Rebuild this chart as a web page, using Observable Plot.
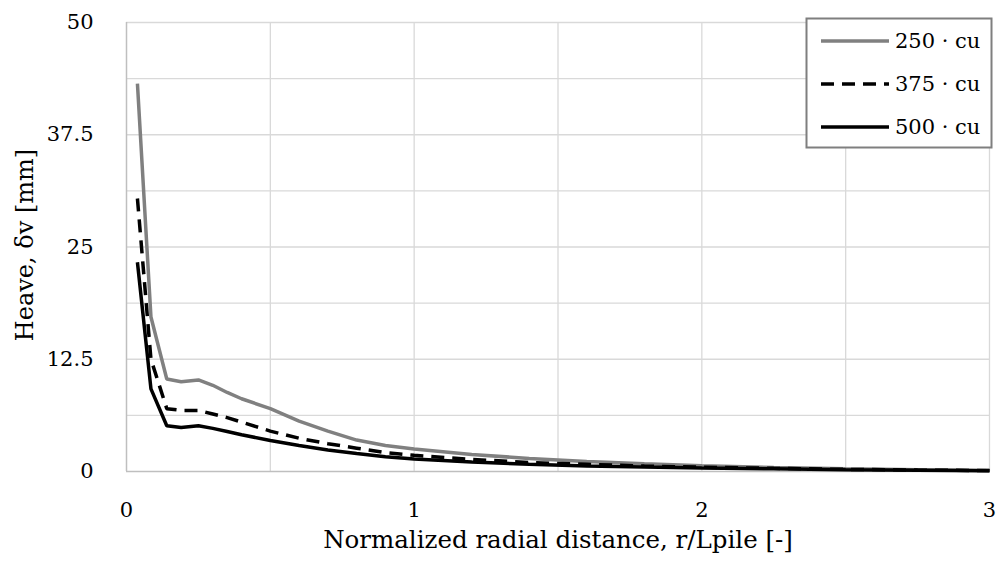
<!DOCTYPE html>
<html>
<head>
<meta charset="utf-8">
<script src="https://cdn.jsdelivr.net/npm/d3@7"></script>
<script src="https://cdn.jsdelivr.net/npm/@observablehq/plot@0.6"></script>
<style>
  html, body { margin: 0; padding: 0; background: white; }
</style>
</head>
<body>
<div id="chart"></div>
<script>
// ---- data ----
const rOverL = [0.038, 0.085, 0.14, 0.19, 0.25, 0.30, 0.35, 0.40, 0.50, 0.60, 0.70, 0.80, 0.90, 1.00, 1.20, 1.40, 1.60, 1.80, 2.00, 2.25, 2.50, 2.75, 3.00];
const heave250 = [43.2, 17.2, 10.3, 10.0, 10.2, 9.6, 8.8, 8.1, 7.0, 5.6, 4.5, 3.5, 2.9, 2.5, 1.9, 1.45, 1.1, 0.85, 0.65, 0.45, 0.3, 0.2, 0.12];
const heave375 = [30.4, 12.5, 7.0, 6.8, 6.8, 6.4, 6.0, 5.5, 4.5, 3.7, 3.1, 2.6, 2.1, 1.8, 1.35, 1.0, 0.8, 0.6, 0.48, 0.35, 0.24, 0.16, 0.1];
const heave500 = [23.3, 9.2, 5.1, 4.9, 5.1, 4.8, 4.45, 4.1, 3.45, 2.9, 2.4, 2.0, 1.65, 1.4, 1.05, 0.8, 0.62, 0.5, 0.4, 0.3, 0.2, 0.14, 0.09];
const seriesNames = ["250 · cu", "375 · cu", "500 · cu"];
const xTickLabels = [0, 1, 2, 3];
const yTickLabels = [0, 12.5, 25, 37.5, 50];
const xGridLines = [0.5, 1, 1.5, 2, 2.5, 3];
const yGridLines = [6.25, 12.5, 18.75, 25, 31.25, 37.5, 43.75, 50];
const xLabel = "Normalized radial distance, r/Lpile [-]";
const yLabel = "Heave, δv [mm]";

const seriesValues = [heave250, heave375, heave500];
const styles = [
  {stroke: "#808080", dash: null},
  {stroke: "#000000", dash: "13,8"},
  {stroke: "#000000", dash: null}
];

const lineMarks = seriesValues.map((vals, i) => {
  const rows = rOverL.map((x, j) => ({x, y: vals[j]}));
  return Plot.line(rows, {
    x: "x", y: "y",
    stroke: styles[i].stroke,
    strokeWidth: 3.5,
    strokeDasharray: styles[i].dash,
    strokeLinejoin: "miter",
    strokeLinecap: "butt"
  });
});

const font = "DejaVu Serif";

const svg = Plot.plot({
  width: 998,
  height: 563,
  marginLeft: 126,
  marginRight: 9,
  marginTop: 22,
  marginBottom: 92,
  x: {domain: [0, 3]},
  y: {domain: [0, 50]},
  style: {fontFamily: font, fontSize: "21px", background: "white", color: "#000"},
  marks: [
    Plot.gridX(xGridLines, {stroke: "#d9d9d9", strokeOpacity: 1, strokeWidth: 1.3}),
    Plot.gridY(yGridLines, {stroke: "#d9d9d9", strokeOpacity: 1, strokeWidth: 1.3}),
    Plot.ruleX([0], {stroke: "#bfbfbf", strokeWidth: 1.5}),
    Plot.ruleY([0], {stroke: "#bfbfbf", strokeWidth: 1.5}),
    ...lineMarks,
    Plot.axisX(xTickLabels, {tickSize: 0, tickPadding: 31, label: null, fontSize: 21, fontFamily: font, fill: "#000", tickFormat: d => String(d)}),
    Plot.axisY(yTickLabels, {tickSize: 0, tickPadding: 33, label: null, fontSize: 21, fontFamily: font, fill: "#000", tickFormat: d => String(d)}),
    Plot.text([xLabel], {frameAnchor: "bottom", dy: 76, text: d => d, fontSize: 24.5, fontFamily: font, fill: "#000"}),
    Plot.text([yLabel], {frameAnchor: "left", textAnchor: "middle", dx: -101, dy: -2, rotate: -90, text: d => d, fontSize: 24, fontFamily: font, fill: "#000"})
  ]
});

// ---- legend box ----
const g = d3.select(svg).append("g")
  .attr("font-family", font).attr("font-size", 21).attr("text-anchor", "start");
g.append("rect")
  .attr("x", 806.5).attr("y", 18.5).attr("width", 185).attr("height", 129)
  .attr("fill", "white").attr("stroke", "#7f7f7f").attr("stroke-width", 2);
const legendY = [41, 84, 127];
seriesNames.forEach((name, i) => {
  g.append("line")
    .attr("x1", 821).attr("x2", 889)
    .attr("y1", legendY[i]).attr("y2", legendY[i])
    .attr("stroke", styles[i].stroke)
    .attr("stroke-width", 3.5)
    .attr("stroke-dasharray", styles[i].dash);
  g.append("text")
    .attr("x", 895).attr("y", legendY[i])
    .attr("dy", "0.35em")
    .attr("text-anchor", "start")
    .attr("fill", "#000")
    .text(name);
});

document.getElementById("chart").appendChild(svg);
</script>
</body>
</html>
